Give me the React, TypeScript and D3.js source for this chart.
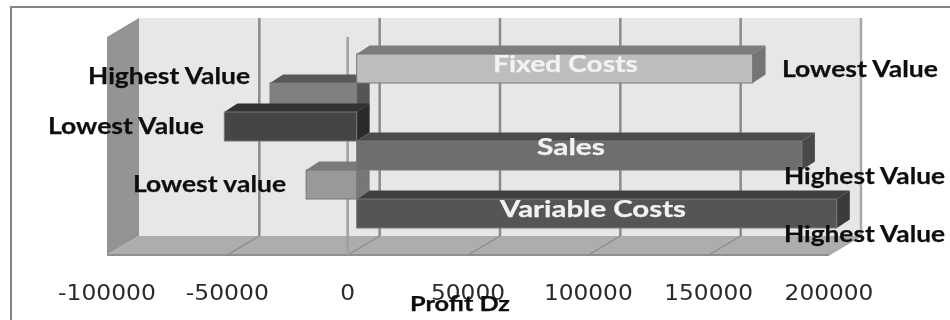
import React from "react";
import * as d3 from "d3";

// Profit sensitivity: one row per bar, top to bottom.
const rowNames = ["Fixed Costs", "Highest Value", "Lowest Value", "Sales", "Lowest value", "Variable Costs"];
const rowValues = [164500, -36000, -55000, 185000, -21000, 199500];
const axisTicks = [-100000, -50000, 0, 50000, 100000, 150000, 200000];

const frontFills = ["#bdbdbd", "#808080", "#454545", "#6e6e6e", "#999999", "#555555"];
const topFills = ["#7c7c7c", "#595959", "#333333", "#4c4c4c", "#7a7a7a", "#404040"];
const sideFills = ["#757575", "#555555", "#2c2c2c", "#4a4a4a", "#777777", "#3a3a3a"];

// Text annotations: [text, left edge, baseline, drawn width]
const darkLabels: [string, number, number, number][] = [
  ["Highest Value", 88, 84, 162],
  ["Lowest Value", 48, 134, 156],
  ["Lowest value", 133, 192, 153],
  ["Lowest Value", 782, 77, 156],
  ["Highest Value", 784, 184, 161],
  ["Highest Value", 784, 242, 161],
];
const barLabels: [string, number, number, number][] = [
  ["Fixed Costs", 493, 72, 145],
  ["Sales", 537, 155, 68],
  ["Variable Costs", 500, 217, 186],
];

const WIDTH = 950;
const HEIGHT = 320;
const wallDx = 32;
const wallDy = -19;
const floorY = 255;
const wallTopY = 37;
const barInset = 9;
const barDx = 13;
const barDy = -8.5;

const x = d3.scaleLinear().domain([-100000, 200000]).range([107, 829]);
const y = d3.scaleBand<number>().domain(d3.range(rowNames.length)).range([54, 228]);
const poly = (pts: number[][]) => pts.map((p) => p.join(",")).join(" ");

// Negative bars sit behind the positive ones.
const drawOrder = d3.range(rowNames.length).sort((a, b) => {
  const sa = rowValues[a] < 0 ? 0 : 1;
  const sb = rowValues[b] < 0 ? 0 : 1;
  return sa - sb || a - b;
});

function Bar({ i }: { i: number }) {
  const zero = x(0) + barInset;
  const end = x(rowValues[i]) + barInset;
  const x0 = Math.min(zero, end);
  const x1 = Math.max(zero, end);
  const y0 = y(i)!;
  const y1 = y0 + y.bandwidth();
  return (
    <g>
      <polygon
        points={poly([[x0, y0], [x0 + barDx, y0 + barDy], [x1 + barDx, y0 + barDy], [x1, y0]])}
        fill={topFills[i]}
      />
      <polygon
        points={poly([[x1, y0], [x1 + barDx, y0 + barDy], [x1 + barDx, y1 + barDy], [x1, y1]])}
        fill={sideFills[i]}
      />
      <rect x={x0} y={y0} width={x1 - x0} height={y1 - y0} fill={frontFills[i]} stroke="#777" strokeWidth={1} />
    </g>
  );
}

export default function App() {
  const [left, right] = x.range();
  const backLeft = left + wallDx;
  const backRight = right + wallDx;
  const backTop = wallTopY + wallDy;
  const backBottom = floorY + wallDy;
  return (
    <svg
      width={WIDTH}
      height={HEIGHT}
      viewBox={`0 0 ${WIDTH} ${HEIGHT}`}
      style={{ position: "absolute", left: 0, top: 0, background: "#fff" }}
    >
      <defs>
        <filter id="soft" x="0" y="0" width="100%" height="100%">
          <feGaussianBlur stdDeviation="0.6" />
        </filter>
      </defs>
      <g filter="url(#soft)">
        <rect x={0} y={0} width={WIDTH} height={HEIGHT} fill="#fff" />
        <path d={`M11,${HEIGHT}V7H${WIDTH}`} fill="none" stroke="#858585" strokeWidth={2} />

        <rect x={backLeft} y={backTop} width={backRight - backLeft} height={backBottom - backTop} fill="#e7e7e7" />
        <polygon
          points={poly([[left, wallTopY], [backLeft, backTop], [backLeft, backBottom], [left, floorY]])}
          fill="#949494"
        />
        <polygon
          points={poly([[left, floorY], [backLeft, backBottom], [backRight, backBottom], [right, floorY]])}
          fill="#adadad"
        />
        <line x1={left} x2={right} y1={floorY} y2={floorY} stroke="#8f8f8f" strokeWidth={2} />

        {axisTicks.slice(1).map((t) => (
          <g key={t} stroke={t === 200000 ? "#a8a8a8" : "#8a8a8a"} fill="none">
            <line x1={x(t) + wallDx} x2={x(t) + wallDx} y1={backTop} y2={backBottom} strokeWidth={2.5} />
            <line x1={x(t) + wallDx} x2={x(t)} y1={backBottom} y2={floorY} strokeWidth={1.2} />
          </g>
        ))}
        <line x1={x(0)} x2={x(0)} y1={wallTopY} y2={floorY} stroke="#a0a0a0" strokeWidth={2.5} />

        {drawOrder.map((i) => (
          <Bar key={i} i={i} />
        ))}

        {axisTicks.map((t) => (
          <text
            key={t}
            x={x(t)}
            y={300}
            textAnchor="middle"
            fontFamily="'DejaVu Sans'"
            fontSize={22}
            fill="#2c2c2c"
            textLength={Math.abs(t).toString().length * 14.8 + (t < 0 ? 9 : 0)}
            lengthAdjust="spacingAndGlyphs"
          >
            {t}
          </text>
        ))}
        <text
          x={410}
          y={311}
          fontFamily="Lato"
          fontWeight={700}
          fontSize={20}
          fill="#111"
          stroke="#111"
          strokeWidth={0.25}
          textLength={100}
          lengthAdjust="spacingAndGlyphs"
        >
          Profit Dz
        </text>

        {darkLabels.map(([label, lx, ly, w], k) => (
          <text
            key={k}
            x={lx}
            y={ly}
            fontFamily="Lato"
            fontWeight={700}
            fontSize={22}
            fill="#111"
            stroke="#111"
            strokeWidth={0.25}
            textLength={w}
            lengthAdjust="spacingAndGlyphs"
          >
            {label}
          </text>
        ))}
        {barLabels.map(([label, lx, ly, w], k) => (
          <text
            key={k}
            x={lx}
            y={ly}
            fontFamily="Lato"
            fontWeight={700}
            fontSize={22}
            fill="#f2f2f2"
            stroke="#f2f2f2"
            strokeWidth={0.25}
            textLength={w}
            lengthAdjust="spacingAndGlyphs"
          >
            {label}
          </text>
        ))}
      </g>
    </svg>
  );
}
